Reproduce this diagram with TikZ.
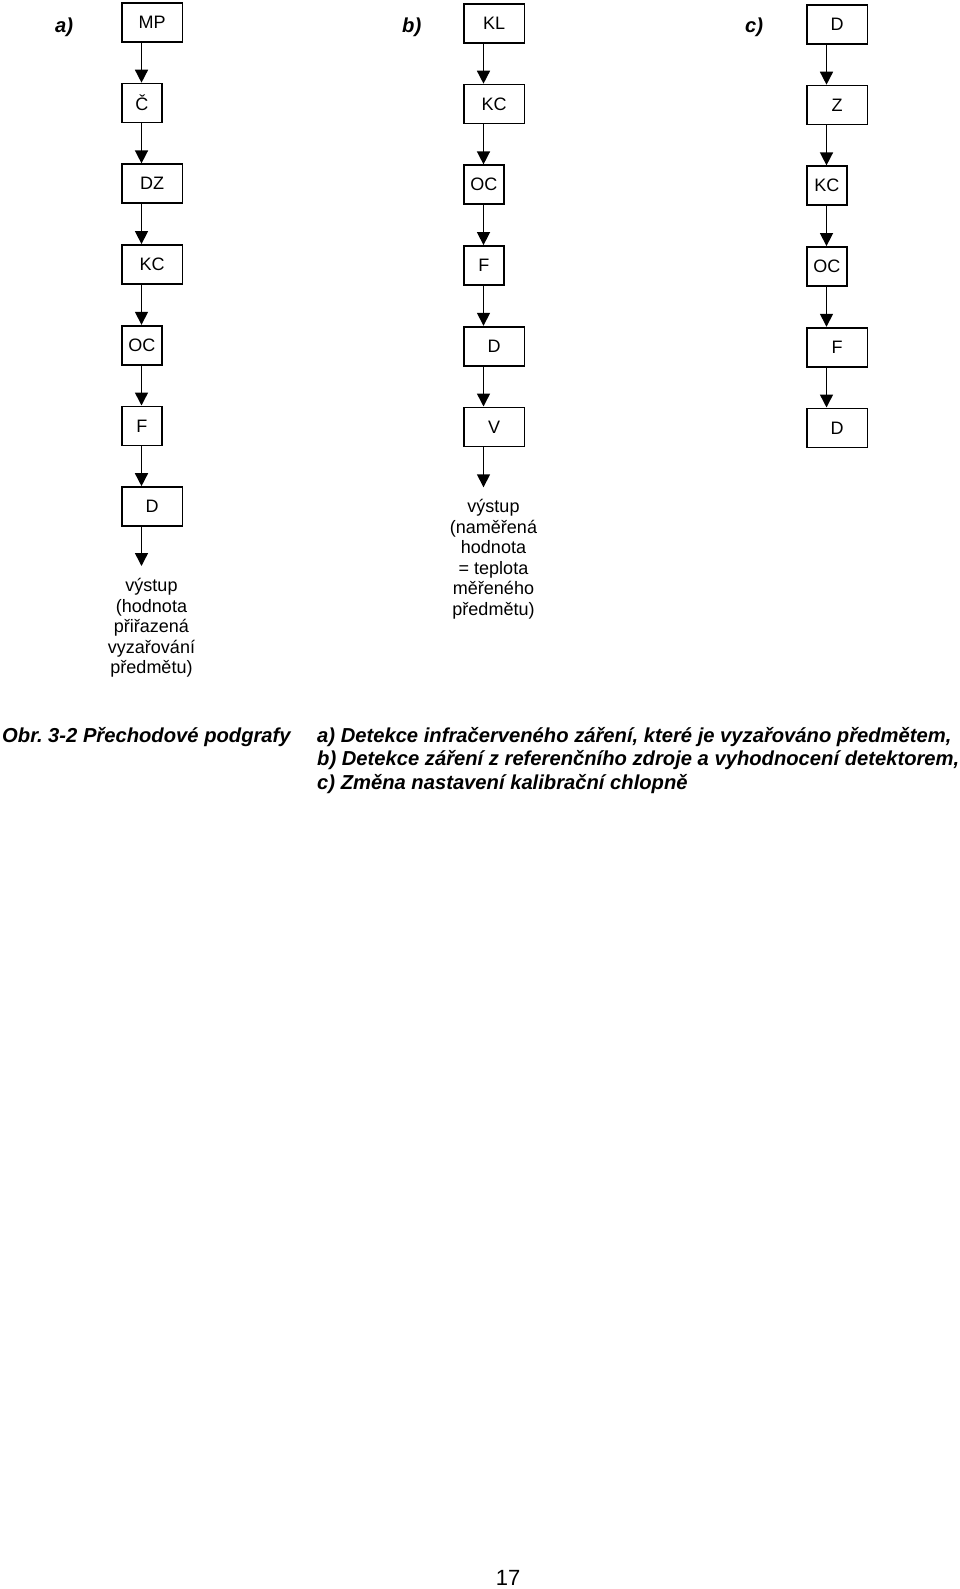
\documentclass[tikz,border=0pt]{standalone}
\usepackage{fontspec}
\setmainfont{Liberation Sans}
\usetikzlibrary{positioning,arrows.meta}

\tikzset{
  blk/.style={draw, line width=1.8pt, minimum width=60.5pt, minimum height=39pt,
    inner sep=0pt, font=\fontsize{18}{20.5}\selectfont},
  nblk/.style={blk, minimum width=40pt},
  flow/.style={line width=1.5pt, -{Triangle[width=13pt,length=13pt]}},
  lbl/.style={inner sep=0pt, font=\fontsize{20.2}{23.5}\selectfont\bfseries\itshape},
  outtxt/.style={align=center, inner sep=0pt, font=\fontsize{18}{20.5}\selectfont},
}

\begin{document}
\frenchspacing
\begin{tikzpicture}[x=1pt, y=-1pt, node distance=39.9pt]
  \useasboundingbox (0,0) rectangle (960,1589);

  % a) infrared from the object
  \node[lbl, anchor=base west] (la) at (55,33) {a)};
  \node[blk, anchor=north west] (mp) at (121,2) {MP};
  \node[nblk, below=of mp.south west, anchor=north west] (cz) {Č};
  \node[blk, below=of cz.south west, anchor=north west] (dz) {DZ};
  \node[blk, below=of dz.south west, anchor=north west] (kca) {KC};
  \node[nblk, below=of kca.south west, anchor=north west] (oca) {OC};
  \node[nblk, below=of oca.south west, anchor=north west] (fa) {F};
  \node[blk, below=of fa.south west, anchor=north west] (da) {D};
  \coordinate (outa) at ([shift={(20.5pt,-39pt)}]da.south west);
  \node[outtxt, below=11pt of outa, anchor=north, xshift=10pt] (vysta)
    {\strut výstup\\(hodnota\\přiřazená\\vyzařování\\předmětu)};

  % b) reference source
  \node[lbl, anchor=base west] (lb) at (402,33) {b)};
  \node[blk, anchor=north west] (kl) at (463,3) {KL};
  \node[blk, below=of kl.south west, anchor=north west] (kcb) {KC};
  \node[nblk, below=of kcb.south west, anchor=north west] (ocb) {OC};
  \node[nblk, below=of ocb.south west, anchor=north west] (fb) {F};
  \node[blk, below=of fb.south west, anchor=north west] (db) {D};
  \node[blk, below=of db.south west, anchor=north west] (vb) {V};
  \coordinate (outb) at ([shift={(20.5pt,-40pt)}]vb.south west);
  \node[outtxt, below=11pt of outb, anchor=north, xshift=10pt] (vystb)
    {\strut výstup\\(naměřená\\hodnota\\= teplota\\měřeného\\předmětu)};

  % c) calibration flap
  \node[lbl, anchor=base west] (lc) at (745,33) {c)};
  \node[blk, anchor=north west] (dc) at (806,4) {D};
  \node[blk, below=of dc.south west, anchor=north west] (zc) {Z};
  \node[nblk, below=of zc.south west, anchor=north west] (kcc) {KC};
  \node[nblk, below=of kcc.south west, anchor=north west] (occ) {OC};
  \node[blk, below=of occ.south west, anchor=north west] (fc) {F};
  \node[blk, below=of fc.south west, anchor=north west] (dc2) {D};

  \foreach \a/\b in {mp/cz, cz/dz, dz/kca, kca/oca, oca/fa, fa/da,
                     kl/kcb, kcb/ocb, ocb/fb, fb/db, db/vb,
                     dc/zc, zc/kcc, kcc/occ, occ/fc, fc/dc2}
    \draw[flow] ([xshift=20.5pt]\a.south west) -- ([xshift=20.5pt]\b.north west);
  \draw[flow] ([xshift=20.5pt]da.south west) -- (outa);
  \draw[flow] ([xshift=20.5pt]vb.south west) -- (outb);

  % caption
  \node[lbl, anchor=north west] (obr) at (2,725.5) {\strut Obr. 3-2 Přechodové podgrafy};
  \node[lbl, align=left, anchor=north west] (popis) at (317,725.5)
    {\strut a) Detekce infračerveného záření, které je vyzařováno předmětem,\\
     b) Detekce záření z referenčního zdroje a vyhodnocení detektorem,\\
     c) Změna nastavení kalibrační chlopně};

  \node[anchor=base, inner sep=0pt, font=\fontsize{22}{26}\selectfont] (str) at (508,1585) {17};
\end{tikzpicture}
\end{document}
